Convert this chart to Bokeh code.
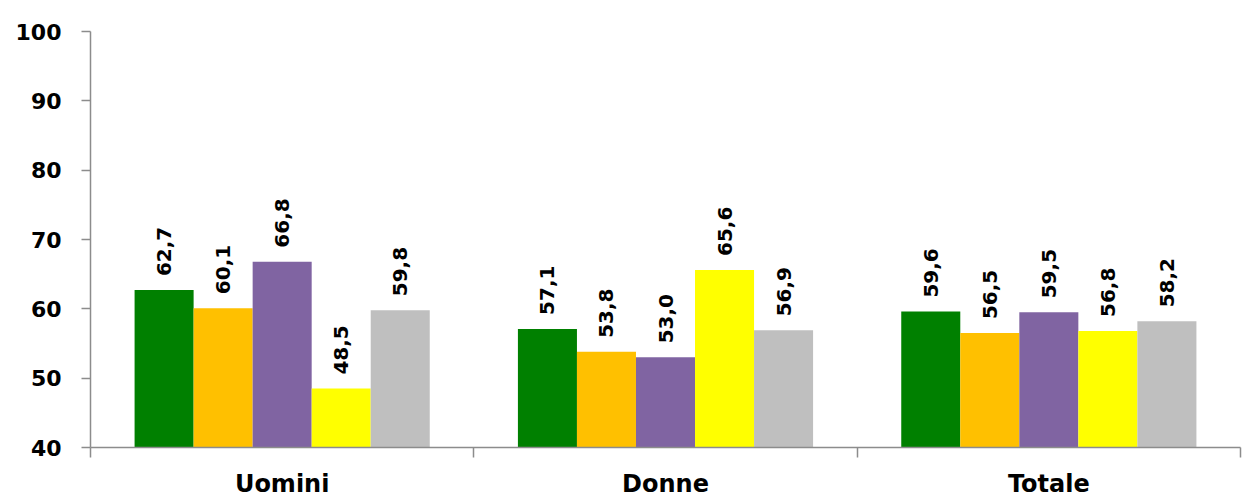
from bokeh.plotting import figure
from bokeh.models import ColumnDataSource, Range1d, FixedTicker
from bokeh.core.properties import value
from bokeh.embed import file_html
from bokeh.resources import INLINE
import math

categories = ["Uomini", "Donne", "Totale"]
series_colors = ["#008000", "#FFC000", "#8064A2", "#FFFF00", "#BFBFBF"]
s1 = [62.7, 57.1, 59.6]
s2 = [60.1, 53.8, 56.5]
s3 = [66.8, 53.0, 59.5]
s4 = [48.5, 65.6, 56.8]
s5 = [59.8, 56.9, 58.2]
series = [s1, s2, s3, s4, s5]
y_ticks = [40, 50, 60, 70, 80, 90, 100]

FONT = "DejaVu Sans"
bar_w = 0.154

p = figure(width=1245, height=500, output_backend="svg", toolbar_location=None,
           x_range=Range1d(0, len(categories)), y_range=Range1d(40, 100),
           min_border_left=90, min_border_right=5, min_border_top=31, min_border_bottom=53)
p.outline_line_color = None
p.grid.grid_line_color = None
p.background_fill_color = "white"
p.border_fill_color = "white"

for j, vals in enumerate(series):
    xs = [i + 0.5 + (j - 2) * bar_w for i in range(len(categories))]
    src = ColumnDataSource(dict(x=xs, top=vals,
                                lab=[("%.1f" % v).replace(".", ",") for v in vals]))
    p.vbar(x="x", top="top", bottom=40, width=bar_w, source=src,
           fill_color=series_colors[j], line_color=None)
    p.text(x="x", y="top", text="lab", source=src, angle=math.pi / 2,
           text_align="left", text_baseline="middle", y_offset=-14,
           text_font=value(FONT), text_font_style="bold",
           text_font_size=value("20px"), text_color="black")

ya = p.yaxis[0]
ya.ticker = FixedTicker(ticks=y_ticks)
ya.major_tick_out = 9
ya.major_tick_in = 0
ya.minor_tick_out = 0
ya.minor_tick_in = 0
ya.major_label_standoff = 20
ya.major_label_text_font = FONT
ya.major_label_text_font_style = "bold"
ya.major_label_text_font_size = "22px"
ya.major_label_text_color = "black"
ya.axis_line_color = "#8c8c8c"
ya.axis_line_width = 1.5
ya.major_tick_line_color = "#8c8c8c"
ya.major_tick_line_width = 1.5

xa = p.xaxis[0]
xa.ticker = FixedTicker(ticks=[i + 0.5 for i in range(len(categories))],
                        minor_ticks=list(range(len(categories) + 1)))
xa.major_label_overrides = {i + 0.5: c for i, c in enumerate(categories)}
xa.major_tick_out = 0
xa.major_tick_in = 0
xa.minor_tick_out = 10
xa.minor_tick_in = 0
xa.major_label_standoff = 12
xa.major_label_text_font = FONT
xa.major_label_text_font_style = "bold"
xa.major_label_text_font_size = "24px"
xa.major_label_text_color = "black"
xa.axis_line_color = "#8c8c8c"
xa.axis_line_width = 1.5
xa.minor_tick_line_color = "#8c8c8c"
xa.minor_tick_line_width = 1.5

open("out.html", "w").write(file_html(p, INLINE))
